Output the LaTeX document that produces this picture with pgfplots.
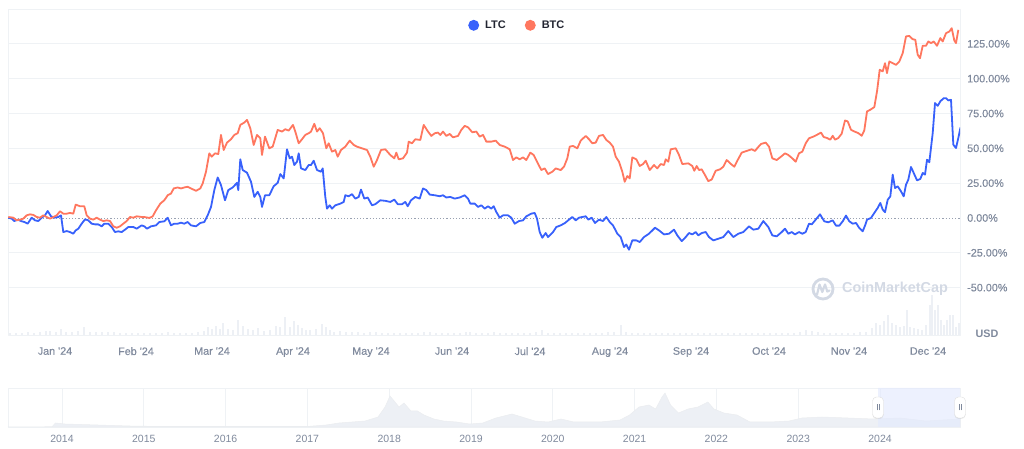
\documentclass[border=0pt]{standalone}
\usepackage{pgfplots}
\pgfplotsset{compat=1.18}
\usepackage{fontspec}
\setmainfont{Liberation Sans}
\newfontfamily\semib{Liberation Sans}[FakeBold=0.35]
\usetikzlibrary{shadows}
\definecolor{ltc}{HTML}{3861FB}
\definecolor{btc}{HTML}{FF775F}
\definecolor{tickc}{HTML}{808A9D}
\definecolor{gridc}{HTML}{EFF2F5}
\definecolor{vol}{HTML}{EDF0F5}
\definecolor{dark}{HTML}{222531}
\definecolor{wm}{HTML}{D3D9E4}
\definecolor{selc}{HTML}{E3EAFD}
\newcommand{\tf}{\fontsize{10.8}{12}\selectfont}
\begin{document}
\begin{tikzpicture}
\path[use as bounding box] (0pt,0pt) rectangle (1024pt,449pt);

% ---------- volume (main chart) ----------
\begin{axis}[at={(8pt,114pt)}, anchor=south west, scale only axis,
  width=952pt, height=326pt, xmin=8, xmax=960, ymin=0, ymax=326,
  axis lines=none, ticks=none]
\addplot[ycomb, draw=vol, line width=2.6pt] coordinates {
(10,2) (16,2) (22,2) (28,2.5) (34,2) (40,3) (46,4) (50,4) (56,3) (61,6) (66,3) (72,3) (78,4) (84,8) (90,3) (96,3) (102,3) (108,3) (114,3) (120,2) (126,2) (132,2) (138,1.5) (144,2) (150,1.5) (156,2) (162,2) (168,2.5) (174,2) (180,2) (186,2) (192,2) (198,3) (204,4) (208,8) (212,6) (216,9) (220,6) (223,12) (228,6) (233,5) (238,15) (243,9) (248,6) (253,5) (258,7) (264,4) (270,5) (276,9) (280,8) (285,18) (290,8) (294,14) (298,10) (302,7) (306,5) (310,5) (316,6) (322,11) (326,8) (330,5) (334,3) (340,4) (346,3) (352,3) (358,3) (364,2) (370,3) (376,2.5) (382,2) (388,2) (394,2) (400,2) (406,2) (412,2) (418,2) (424,3) (430,3) (436,2) (442,2) (448,2) (454,2) (460,2) (466,3) (470,3) (476,2) (482,2) (488,2) (494,3) (500,2) (506,2) (512,2) (518,2) (524,2) (530,2) (536,3) (542,5) (548,2) (554,2) (560,2) (566,2) (572,2) (578,2) (584,2) (590,2) (596,2) (602,2) (608,3) (614,3) (621,10) (626,3) (632,2) (638,2) (644,2) (650,2) (656,2) (662,2) (668,2) (674,2) (680,2) (686,2) (692,2) (698,2) (704,2) (710,2) (716,2) (722,2) (728,2) (734,2) (740,2) (746,2) (752,2) (758,2) (764,2) (770,2) (776,2) (782,2) (788,2) (794,2) (800,3) (806,5) (812,4) (818,3) (824,2) (830,2) (836,2) (842,2) (848,2) (854,2) (860,3) (866,3) (872,7) (876,12) (880,10) (884,14) (888,20) (892,12) (896,10) (900,8) (904,9) (907,25) (910,8) (914,7) (918,6) (922,5) (926,10) (930,30) (932,40) (935,25) (938,30) (941,15) (944,10) (947,15) (950,20) (953,20) (956,8) (959,12)
};
\end{axis}

% ---------- main chart ----------
\begin{axis}[at={(8pt,114pt)}, anchor=south west, scale only axis,
  width=952pt, height=326pt, xmin=8, xmax=960, ymin=-84, ymax=150,
  axis line style={draw=gridc, line width=0.8pt},
  ytick={-50,-25,25,50,75,100,125},
  yticklabels={-50.00\%,-25.00\%,25.00\%,50.00\%,75.00\%,100.00\%,125.00\%},
  extra y ticks={0}, extra y tick labels={0.00\%},
  extra y tick style={grid=major, major grid style={draw=tickc!80, line width=0.6pt, dash pattern=on 1.2pt off 2pt}},
  ymajorgrids, major grid style={draw=gridc, line width=0.8pt},
  yticklabel pos=right,
  yticklabel style={anchor=west, xshift=7pt, inner sep=0pt},
  xtick={55,136,212,293,371,452,530,610,691,769,849,928},
  xticklabels={Jan \textquotesingle 24,Feb \textquotesingle 24,Mar \textquotesingle 24,Apr \textquotesingle 24,May \textquotesingle 24,Jun \textquotesingle 24,Jul \textquotesingle 24,Aug \textquotesingle 24,Sep \textquotesingle 24,Oct \textquotesingle 24,Nov \textquotesingle 24,Dec \textquotesingle 24},
  xticklabel style={anchor=north, yshift=-12pt, inner sep=0pt},
  tick label style={font=\semib\tf, text=tickc},
  major tick length=0pt, tick style={draw=none},
  legend style={at={(0.4832,0.95)}, anchor=west, draw=none, fill=none,
    legend columns=2, font=\bfseries\fontsize{11}{12}\selectfont, text=dark, inner sep=0pt,
    /tikz/every even column/.append style={column sep=17pt}},
  legend image code/.code={\fill[#1, draw=none] (0pt,0pt) circle (5.5pt);},
  line join=round]
\addplot[color=ltc, line width=1.8pt] coordinates {
(8.3,0.2) (11.7,-0.5) (14.3,-2.2) (17.7,-1.2) (21,-2.2) (24.3,-2.9) (27.7,-4.1) (31.7,0.2) (35,-1.7) (38.3,-2.2) (41.7,0.2) (45,1.9) (47.7,5) (51,1.2) (54.3,0.2) (58.3,0.7) (61,1.9) (63.3,-10.1) (66.7,-9.4) (70,-10.1) (73.3,-11.3) (75.7,-8.9) (78.3,-7.7) (81.7,-4.1) (85,-1) (88.3,-1.7) (91.7,-4.1) (95,-4.6) (98.3,-4.6) (101.7,-6) (104.3,-4.1) (108.3,-4.1) (111.7,-6.5) (115,-10.1) (118.3,-9.6) (121.7,-10.1) (125,-8.4) (128.3,-6.5) (133.3,-6.5) (136.7,-7.7) (141.7,-5.3)
(144.3,-6) (147,-7.7) (151,-6) (156,-5.3) (159.3,-2.9) (164.3,-2.4) (167.7,0.2) (171,-5.3) (174.3,-4.1) (177.7,-4.1) (181,-3.4) (184.3,-4.1) (187.7,-2.9) (191,-5.3) (196,-6) (200.3,-3.6) (204.3,-2.9) (207.7,1.9) (211,7.9) (214.3,20) (217.7,29.1) (221,23.6) (225,12.7) (228.3,20) (232.7,21.9) (237,25.2) (238.3,20) (240.3,42.1) (242.7,34.4) (247,32.5) (251,26) (254.3,15.1) (257.7,18.8) (260.3,15.1) (262,7.9) (265,16.3) (269.3,16.3) (273.7,22.8) (277.7,25.2) (280.3,31.5) (283.7,28.4) (287,49.3) (289.7,42.8) (292,44) (294.3,38) (297,40.4) (298.7,46.4) (301,35.6) (305.3,34.4) (308.7,38) (311,38) (313.7,41.1) (317,34.4) (321,33.2) (322.7,35.6) (325.3,15.1) (327,6.7) (329.7,9.1) (332,6.7) (335.3,9.1) (340.3,10.3) (343.7,11.5) (345.3,16.3) (348.7,15.6) (352,17.1) (355.3,13.9) (358.7,15.1) (361,20.4) (364.3,13.9) (367.7,14.7) (372,9.1) (375.3,9.9) (380.3,12.7) (385.3,12.3) (390.3,11.5) (394.3,13.2) (397.7,9.9) (402,9.9) (405.3,11.5) (407.7,8.4) (411,12.7) (415.3,15.1) (419.7,13.9) (423,21.2) (426.3,20) (429.7,16.8) (434.7,16.3) (439.7,15.6) (443,16.3) (446.3,14.7) (450.3,15.1) (454.7,13.9) (459.7,14.7) (464.7,16.3) (468,13.9) (470.3,10.3) (474.7,10.3) (478,7.9) (481.3,9.1) (484.7,6.7) (488,8.4) (491.3,6.7) (493.7,8.4) (496.3,4.3) (499.7,0.2) (503,1.9) (508,1.9) (511.3,0.2) (514.7,-4.1) (519,-2.2) (523,-1.7) (526.3,1.2) (531.3,3.1) (534.7,3.6) (537,-0.5) (539.7,-10.1) (542.3,-14.2) (545.7,-10.8) (548,-13.7) (553,-10.1) (556.3,-6.5) (560.7,-5.3) (565,-3.6) (569,-1.2) (572.3,0.7) (575.7,-1.7) (579,0.2) (582.3,0.7) (585.7,1.2) (588.3,-1.2) (591.7,0.2) (595,-3.6) (599,-1.2) (603,-2.2) (606.3,0.7) (609.7,-2.9) (613,-5.3) (617.3,-11.3) (620.7,-13.7) (624,-20.9) (626.3,-19) (629,-22.8) (632.3,-16.1) (636.3,-16.1) (639.7,-17.3) (644,-13.7) (649,-11.3) (655,-7) (659,-8.9) (664,-11.8) (669,-11.3) (674,-8.4) (677.3,-12.5) (681.7,-16.6) (685.7,-13.7) (689,-10.8) (692.3,-11.8) (695.7,-10.1) (698.3,-12.5) (701.7,-10.8) (705.7,-10.1) (709,-13.7) (713.3,-16.1) (718.3,-14.9) (723.3,-13.7) (728.3,-9.4) (733.3,-13.7) (738.3,-11.3) (743.3,-10.1) (749,-6) (753.3,-8.4) (758.3,-7.7) (763.3,-2.2) (768.3,-6.5) (772.3,-12.5) (776.7,-13.2) (781.7,-10.1) (785,-7.7) (788.3,-11.3) (791.7,-10.1) (795,-11.8) (799,-10.1) (802.3,-11.3) (805.7,-10.1) (809,-4.1) (811.7,-4.6) (815.7,-1.2) (820,2.6) (824.3,-2.4) (828.3,-3.1) (832.7,-1.7) (836,-5.5) (839.3,-5.5) (842.7,-2.4) (846,1.7) (849.3,-2.4) (852.7,-4.1) (856,-3.6) (859.3,-7.2) (862.7,-9.6) (865,-5.5) (867,-1.2) (871,0) (874.3,3.6) (877.7,7.2) (880.3,10.8) (882.7,6) (885,4.1) (887.7,13.1) (890.3,15.5) (892.7,31.1) (895,21.5) (897.7,22.7) (901,19.1) (903.7,15.5) (906,23.9) (908.3,27.5) (911,36.6) (913.7,32.3) (917,27) (920.3,28) (922.7,32.3) (925,31.1) (927,41.8) (929.3,40) (932.7,60.9) (935,82.5) (937.7,80.5) (940.3,83.7) (943.7,86) (946,86) (948.3,84.4) (951,84.8) (953.3,52.6) (956,50.2) (958.3,57.4) (960.5,65)
};
\addlegendentry{\hspace{4pt}LTC}
\addplot[color=btc, line width=1.8pt] coordinates {
(8.3,0.7) (13.3,0.2) (16.7,-1.7) (20,-1.2) (23.3,-0.5) (26.7,1.9) (30,2.6) (33.3,2.2) (36.7,0.7) (40,0.2) (43.3,1.9) (46.7,0.7) (50,-0.5) (53.3,0.7) (56.7,1.9) (60,4.8) (63.3,3.1) (66.7,3.1) (70,3.6) (73.3,3.1) (75.7,9.6) (80,8.4) (84.3,8.4) (86.7,1.9) (90,-0.5) (93.3,-1.2) (96.7,0.2) (100,-1.2) (103.3,-2.2) (106.7,-1.7) (110,-2.2) (113.3,-6) (116.7,-7) (120,-6) (123.3,-4.1) (126.7,-2.2) (130,0.7) (133.3,0.2) (136.7,1.2) (141.7,0.7)
(144.3,0.7) (149.3,0) (152.7,1.2) (156,5.5) (160.3,10.3) (164.3,12.7) (167.7,16.3) (171,17.5) (173.7,21.2) (177.7,21.9) (181,21.2) (184.3,21.9) (187.7,22.4) (191,21.2) (196,19.5) (200.3,21.2) (202.7,24.8) (206,33.2) (209.3,46.4) (211.7,44) (215,46.4) (218.3,45.9) (221,59.6) (223.7,48.8) (227,54.1) (231,56.5) (234.3,59.6) (237.7,60.8) (240.3,66.8) (244.3,68.5) (247,70.4) (250.3,64.4) (253.7,52.4) (257,59.6) (260.3,57.2) (262,45.2) (265,58.4) (269.3,50) (272.7,51.2) (277.7,63.2)
(282,62) (285.3,63.7) (288.7,62.7) (293,66.8) (295.3,62) (298.7,53.6) (302,56.5) (305.3,59.6) (308.7,60.8) (311,62) (314.3,67.6) (317,62) (319.7,64.4) (323,60.8) (326.3,50) (328.7,53.6) (332,47.6) (335.3,48.8) (337.7,44) (341,48.8) (345.3,51.2) (349.7,55.5) (353.7,52.4) (357,51.2) (362,50) (367,48.8) (370.3,44) (373.7,36.8) (377,41.6) (381,48.8) (385.3,49.3) (390.3,45.2) (394.3,42.8) (396.3,46.9) (398.7,42.1) (403,42.8) (407,46.9) (408.7,54.8) (412,53.6) (415.3,56.5)
(420.3,56) (423.7,66.8) (428,62) (431.3,58.9) (434.7,60.8) (438,61.3) (440.3,59.6) (443,62) (446.3,58.9) (449.7,60.3) (453,57.9) (458,58.9) (461.3,63.2) (464.7,66.1) (468,65.1) (472.3,61.5) (476.3,62) (479.7,58.4) (483,59.6) (486.3,54.8) (491.3,54.8) (495.7,55.5) (499.7,52.4) (504.7,51.2) (509.7,49.3) (513,41.6) (516.3,43.5) (519.7,42.1) (523,43.5) (526.3,41.6) (530.3,46.9) (533.7,45.2) (537,40.4) (541.3,34.4) (544.7,35.6) (548,31.5)
(552.3,33.2) (555.7,35.6) (560.7,34.4) (564,36.8) (567.3,42.8) (569.7,51.2) (573,51.7) (577.3,50) (580.7,55.5) (585.7,58.9) (589,56.5) (592.3,53.6) (595.7,54.1) (599,58.9) (603,59.6) (606.3,56) (609.7,54.1) (613,51.2) (615.7,44) (619,40.4) (622.3,33.2) (624.7,26) (627.3,30.1) (629.7,28.4) (632.3,43.5) (636.3,42.1) (639.7,37.3) (643,38.7) (645.7,41.1) (649.7,34.4) (654,38) (657.3,35.6) (660.7,38.7) (664,38) (665.7,42.1) (668.3,40.4) (670.7,49.3) (675.7,50) (679,45.2) (682.3,38.7) (688.3,39.2)
(692.3,37.3) (694.3,33.9) (696.7,37.3) (699,34.4) (701.7,34.9) (705,30.8) (708.3,26.4) (711.7,27.6) (715.7,33.9) (720,34.9) (723.3,36.8) (726.7,41.6) (731,38.7) (734.3,36.8) (737.7,41.6) (741.7,46.9) (746.7,48.1) (751.7,49.3) (755,48.1) (757.7,50.5) (761,53.1) (765.7,54.1) (769,51.2) (772.3,42.8) (776.7,41.6) (781,44) (785,46.4) (788.3,45.2) (792.3,42.8) (795.7,40.4) (799,46.4) (802.3,47.6) (805.7,53.6) (809,57.2) (813.3,58.4) (816.7,59.6) (821,61.3)
(823.7,58.1) (827,57.4) (830.3,56.2) (832.7,59) (835,56.2) (838.3,57.4) (841.7,60.5) (845,70) (847.7,69.3) (851,63.3) (854.3,62.1) (858.3,60.9) (861.7,59) (864.3,62.9) (867,76.5) (870.3,77.7) (874.3,79.6) (877,90.8) (879.7,106.4) (882.7,105.2) (885,111.1) (887,104) (889.3,112.3) (892.7,111.1) (896,109.9) (899.3,112.3) (902.7,118.3) (906,130.3) (909.3,130.7) (912.7,128.3) (915.3,127.9) (917.7,117.1) (920,114.7) (922.7,123.6) (926,123.6) (928.3,126.7) (931,125.5) (933.7,126.7) (937,123.6) (940.3,129.1) (942.7,126.7) (946,132.6) (949.3,133.8) (951.7,136.2) (954.3,127.4) (956,125.5) (958.3,135)
};
\addlegendentry{\hspace{4pt}BTC}
\end{axis}

% watermark and unit label
\draw[wm, line width=2.8pt] (823pt,160pt) circle (10pt);
\draw[wm, line width=2.2pt, line join=round, line cap=round] (817pt,154.5pt) -- (819.5pt,164.5pt) -- (822.3pt,157pt) -- (825pt,164.5pt) -- (827.3pt,157.5pt) -- (829.5pt,158.5pt);
\node[anchor=west, inner sep=0pt, text=wm, font=\bfseries\fontsize{14.4}{16}\selectfont] at (842pt,160pt) {CoinMarketCap};
\node[inner sep=0pt, text=tickc, font=\bfseries\tf] at (987pt,115pt) {USD};

% ---------- navigator ----------
\begin{axis}[at={(8pt,22pt)}, anchor=south west, scale only axis,
  width=952pt, height=39pt, xmin=8, xmax=960, ymin=0, ymax=39,
  axis line style={draw=gridc, line width=0.8pt}, clip=false,
  ytick=\empty,
  xtick={62,143.8,225.6,307.4,389.2,471,552.8,634.6,716.4,798.2,880},
  xticklabels={2014,2015,2016,2017,2018,2019,2020,2021,2022,2023,2024},
  xmajorgrids, major grid style={draw=gridc, line width=0.8pt},
  xticklabel style={anchor=north, yshift=-8pt, inner sep=0pt, font=\fontsize{10.5}{12}\selectfont, text=tickc},
  major tick length=0pt, tick style={draw=none}]
\addplot[fill=vol, draw=gridc!70!tickc!40, line width=0.5pt] coordinates {
(8,0) (52,0.3) (55.5,4) (65,3) (98,2) (130,1) (163,0.5) (306.6,0.5) (326,2) (339,4) (352,5) (365,6) (378,10) (385,20) (390,31) (395,25) (399,20) (404,24) (411,16) (417.5,16) (424,12) (434,8) (443.6,6) (456.6,5) (469.7,3) (482.7,4) (495.8,9) (512,13) (522,10) (535,6) (548,5) (561,8) (574,5) (600,5) (620,7) (629.5,12) (639,20) (649,22) (655.6,18) (662,30) (665,34) (670.6,22) (678.4,14) (688,18) (698,20) (707.8,25) (714,18) (724,14) (737,12) (750,5) (770,5) (789,6) (802,9) (822,10) (848,9) (874,8) (900,9) (926,6) (960,8)
} \closedcycle;
\addplot[fill=selc, fill opacity=0.65, draw=none] coordinates {(878,0) (878,39) (960,39) (960,0)} \closedcycle;
\node[draw=gray!25, fill=white, rounded corners=4pt, minimum width=11pt, minimum height=21pt, inner sep=0pt, drop shadow={opacity=0.15, shadow xshift=0pt, shadow yshift=-1pt}] at (axis cs:878,19.5) {\textcolor{tickc}{\rule{0.6pt}{6pt}\hspace{1.4pt}\rule{0.6pt}{6pt}}};
\node[draw=gray!25, fill=white, rounded corners=4pt, minimum width=11pt, minimum height=21pt, inner sep=0pt, drop shadow={opacity=0.15, shadow xshift=0pt, shadow yshift=-1pt}] at (axis cs:960,19.5) {\textcolor{tickc}{\rule{0.6pt}{6pt}\hspace{1.4pt}\rule{0.6pt}{6pt}}};
\end{axis}
\end{tikzpicture}
\end{document}
